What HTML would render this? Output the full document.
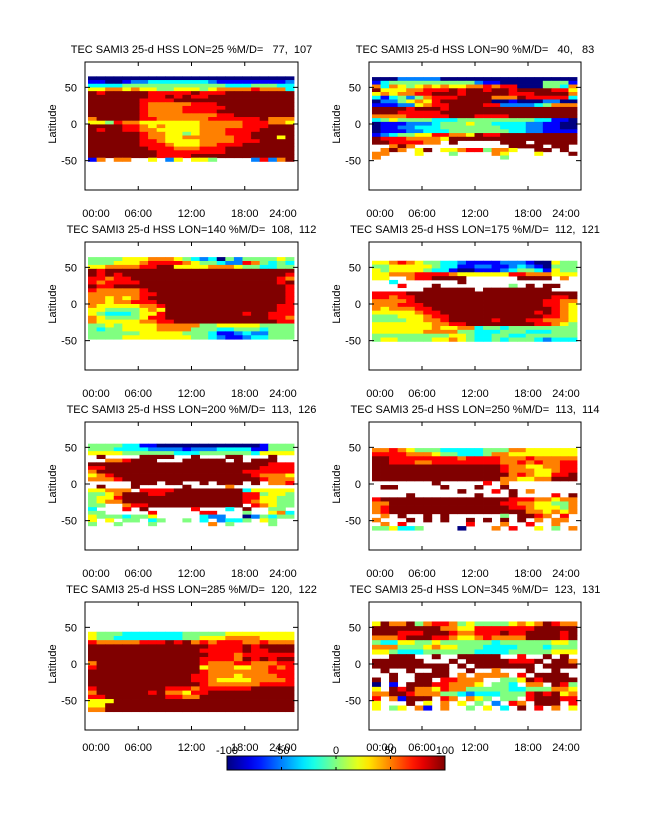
<!DOCTYPE html>
<html><head><meta charset="utf-8">
<style>
body{margin:0;background:#fff;}
svg text{font-family:"Liberation Sans",sans-serif;font-size:11px;fill:#000;white-space:pre;}
</style></head>
<body>
<svg id="fig" width="647" height="822" viewBox="0 0 647 822" xmlns="http://www.w3.org/2000/svg">
<rect width="647" height="822" fill="#fff"/>
</svg>
<script>
// ---- data (codes: 0=-100 ... 4=0 ... 8=+100, '.'=no data), rows from north to south, 24 local-time columns
const panelTitles = ["TEC SAMI3 25-d HSS LON=25 %M/D=   77,  107","TEC SAMI3 25-d HSS LON=90 %M/D=   40,   83","TEC SAMI3 25-d HSS LON=140 %M/D=  108,  112","TEC SAMI3 25-d HSS LON=175 %M/D=  112,  121","TEC SAMI3 25-d HSS LON=200 %M/D=  113,  126","TEC SAMI3 25-d HSS LON=250 %M/D=  113,  114","TEC SAMI3 25-d HSS LON=285 %M/D=  120,  122","TEC SAMI3 25-d HSS LON=345 %M/D=  123,  131"];
const latTops = [65, 64, 64, 59, 55, 49, 44, 58];
const latBottoms = [-51, -48, -48, -51, -57, -63, -65, -63];
const grid1 = ["000000000000000000000000","110012233333332111111112","333344444444444433344433","556656554455545666676663","878888877777877788888888","888888877878778888888888","888888777788888888888888","888888766666777888888888","888888766667777788888888","888888766667777888888888","888888766666666778888888","688888776666667777778666","554766555555566666777665","888877656555566666777888","878877665555566677778888","888888766554566677788888","888888766556666667788858","888888776555566667778888","888888777655566777888888","888888877766677788888888","888888887777777788888888","888888887777888888888888","16.66..5.25.554....27268"];
const grid2 = ["000222220000000000000000","134444444444211000004441","636545656556676770004436","855566777878878878888775","565667788878888877788886","313424677788886668777773","022456578888880010002200","111225677888877222234666","888878887888888888888888","888777778888888888888888","666677777888777788888888","345444433344444444433110","011122234445443333221100","011223334444444333221100","011122333444444433221111","123445577665877888888888","877766665888888888888888","88777766.8.....888.88888","..686...........8888.88.",".686.58.556774665..88.8.","66...5...4....65...5...8","6..............4........"];
const grid3 = ["444455566654323042444454","444555677776544322764343","556666778855556665443344","878888888888888888888888","878788888888888888888887","776778888888888888888876","767777888888888888888878","877888888888888888888887","766666788888888888888887","666666778888888888888887","665656788888888888888887","665667778888888888888887","655555667888888888888877","554444565888888888888877","543334557888888888788777","654444577888888888888776","655555667788888888888877","445455556666644555554444","434455556666444334443444","444444555554443112322444","444455555555443211233444"];
const grid4 = ["556765443321111222100544","445555543311221123210444","545555433100111234431544","556667777655555577666555","55..6778888......8888.6.","..3.......8.............","...7...8........4.8.88..","......888888.88888888...","777788888888888888888888","776778888888888888888778","666678888888888888887766","666777888888888888887765","656667788888888888888765","555556778888888888878765","444555677888888888887765","444455667888887888776665","555555566778888888877654","555555565566344344444444","555555666644333444333444","444444444554334433444444","455444455654334344432333"];
const grid5 = ["444433110000000000001444","444333322221222333311444","555544444433344444435555",".8....8888..8...88...8..","..667888...88888.8.888..","888888888888888888888777","778888888888888888887777","688888888888888888777777","567888888888888888876665","666788888888888888887666",".....888.88..8.888.8.667",".8...8.....8....6.......","55666.777788888888355555","445688877888888888774554","455788888888888888775544","456688888888888888765544","44..67788888888888.76544","3...7.8.....7...3.8..44.","44.....7.....77...4..563","54443445.....322..024344","5.5.44.34..4.3.2334.54..","4..4...4......6.4....4.."];
const grid6 = ["667654443333344466555555","777766654433346655555555","887777777767777666766666","887776677777777667676677","888888888888888766556677","888888888888888766655677","888888888888888867655778","888888888888888665566888",".......8.....7.6........",".88.....8...8..8........","..........8...7.8.6.....","....8.......8...8....7.8","788888888888888877766566","668888888888888776655446","678888888888888877655546","678888888888888888665656",".6.8..8.8......4.8876.7.","6...8.8.8..8.8.8.8.6.66.",".6.7.......7...6..7..6..","445334....0...6.7..5.4.6"];
const grid7 = ["544433333334444455555555","544333333334455566665555","766666777878676777667666","888888888888887777878888","888888888888877777877888","888888888888887776777777","888888888888877776878788","688888888888876667766677","788888888888856665566767","888888888888876666666777","888888888888776665666677","888888888888776555566667","888888888888876666667777","788888888777677777788888","688888878665778888888888","778888888776688888888888","555888888888888888888888","558888888888888888888888","668888888888888888888888"];
const grid8 = ["586684677645444456568766","888888886655777777788888","888777888766777877888878","666788877655676666888878","433554454444443444444554","666444565544433334443444","554333444444333344444555","..888..8..88888..7..8.8.","888888...8.888887778.886","888888888.8.8888888.8888",".8..8..88..8..6...8..8..","..8..8888.6.6666.7.8888.","8.8..88.77666..445878888","0.1.888776665.443.66.874","5.8786657664444433444665","668876664432333444787856","7.61888.76.654.44.788877","5...8.5.6.5.4.2.76.888.7","5.45.61.6..4.5.3.8.7.6.5"];
const grids = [grid1, grid2, grid3, grid4, grid5, grid6, grid7, grid8];
const xTickLabels = ["00:00","06:00","12:00","18:00","24:00"];
const latTicks = [50, 0, -50];
const cbarTicks = [-100, -50, 0, 50, 100];

// ---- drawing
const NS = "http://www.w3.org/2000/svg";
const svg = document.getElementById('fig');
function mk(tag, attrs, parent){ const e=document.createElementNS(NS,tag); for(const k in attrs) e.setAttribute(k,attrs[k]); (parent||svg).appendChild(e); return e; }
function clamp(v){return Math.max(0,Math.min(1,v));}
function jet(v){ const t=(v+100)/200; const r=clamp(1.5-Math.abs(4*t-3)), g=clamp(1.5-Math.abs(4*t-2)), b=clamp(1.5-Math.abs(4*t-1));
  return `rgb(${Math.round(r*255)},${Math.round(g*255)},${Math.round(b*255)})`; }
function codeVal(c){ return (parseInt(c,10)-4)*25; }

const colLeft=[85,369], boxW=[213,212];
const rowTop=[62,242,422,602], boxH=128;
const xLabelY=[217,397,577,751];

grids.forEach((grid,p)=>{
  const col=p%2, row=Math.floor(p/2);
  const bx=colLeft[col], by=rowTop[row], bw=boxW[col];
  const g=mk('g',{});
  
  
  const yOf = lat => by+62-lat*0.733;
  const dx0=bx+3, dw=(bw-7)/24;
  const xOf = h => dx0 + h*dw;
  const nRows=grid.length;
  const latStep=(latTops[p]-latBottoms[p])/nRows;
  grid.forEach((rs,ri)=>{
    for(let ci=0;ci<24;ci++){
      const c=rs[ci];
      if(c===undefined||c==='.') continue;
      const y0=yOf(latTops[p]-ri*latStep), y1=yOf(latTops[p]-(ri+1)*latStep);
      const cell=mk('rect',{x:xOf(ci).toFixed(2),y:y0.toFixed(2),width:(dw+0.4).toFixed(2),height:(y1-y0+0.4).toFixed(2),fill:jet(codeVal(c))},g);
      
      
    }
  });
  const box=mk('rect',{x:bx,y:by,width:bw,height:boxH,fill:'none',stroke:'#000','stroke-width':1},g);
  
  
  const t=mk('text',{x:bx+bw/2,y:by-9,'text-anchor':'middle'},g);
  t.textContent=panelTitles[p];
  
  
  latTicks.forEach(l=>{
    const y=yOf(l);
    mk('line',{x1:bx,x2:bx+5,y1:y,y2:y,stroke:'#000'},g);
    mk('line',{x1:bx+bw-5,x2:bx+bw,y1:y,y2:y,stroke:'#000'},g);
    const tl=mk('text',{x:bx-8,y:y+4,'text-anchor':'end'},g);
    tl.textContent=l;
    
    
  });
  xTickLabels.forEach((lab,i)=>{
    const x=bx+i*bw/4;
    mk('line',{x1:x,x2:x,y1:by,y2:by+4,stroke:'#000'},g);
    mk('line',{x1:x,x2:x,y1:by+boxH-4,y2:by+boxH,stroke:'#000'},g);
    const tl=mk('text',{x:x+(i===0?11:(i===4?-15:0)),y:xLabelY[row],'text-anchor':'middle'},g);
    tl.textContent=lab;
    
    
  });
  const yl=mk('text',{x:0,y:0,'text-anchor':'middle',transform:`translate(${bx-29},${by+62}) rotate(-90)`},g);
  yl.textContent='Latitude';
  
  
});

const cb=mk('g',{});


const defs=mk('defs',{});
const grad=mk('linearGradient',{id:'jetg',x1:0,x2:1,y1:0,y2:0},defs);
for(let i=0;i<=20;i++){ mk('stop',{offset:(i/20),'stop-color':jet(-100+i*10)},grad); }
const cbx=227, cbw=218, cby=756, cbh=14;
mk('rect',{x:cbx,y:cby,width:cbw,height:cbh,fill:'url(#jetg)',stroke:'#000'},cb);
cbarTicks.forEach(v=>{
  const x=cbx+(v+100)/200*cbw;
  mk('line',{x1:x,x2:x,y1:cby,y2:cby+3,stroke:'#000'},cb);
  mk('line',{x1:x,x2:x,y1:cby+cbh-3,y2:cby+cbh,stroke:'#000'},cb);
  const tl=mk('text',{x:x,y:cby-2,'text-anchor':'middle'},cb);
  tl.textContent=v;
  
  
});
</script>
</body></html>
